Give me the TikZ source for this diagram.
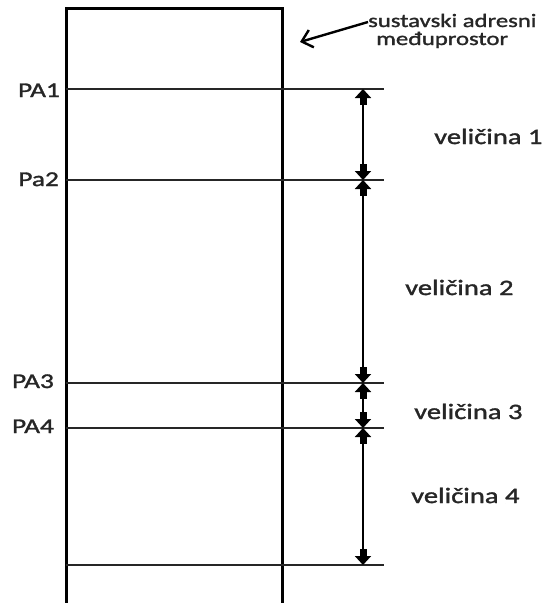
\documentclass[tikz,border=0pt]{standalone}
\usepackage{fontspec}
\setmainfont{Carlito}[FakeStretch=1.3,FakeBold=1.5]
\usetikzlibrary{arrows.meta}
\begin{document}
\begin{tikzpicture}[x=1pt,y=-1pt,
  box/.style={line width=3pt,line cap=butt},
  level/.style={line width=1.5pt,black!85},
  dim/.style={line width=2pt,
    {Triangle[width=16pt,length=9pt,sep=0pt]Rectangle[width=7pt,length=7pt,sep=0pt]}-{Rectangle[width=7pt,length=7pt,sep=0pt]Triangle[width=16pt,length=9pt,sep=0pt]}},
  lab/.style={inner sep=0pt,font=\fontsize{22}{24}\selectfont,text=black!85},
  pa/.style={inner sep=0pt,font=\fontsize{21}{24}\selectfont,text=black!85,anchor=base east},
  note/.style={inner sep=0pt,font=\fontsize{19}{18}\selectfont,text=black!85,anchor=base west},
  pointer/.style={line width=2.4pt,-{Straight Barb[length=10pt,width=18pt,line width=2.4pt]}}]
\useasboundingbox (0,0) rectangle (548,603);
% memory box (open at the bottom)
\draw[box] (66,603) -- (66,8) -- (282,8) -- (282,603);
% levels
\foreach \n/\y in {1/89,2/180,3/383,4/428,5/565}{
  \coordinate (L\n) at (66,\y);
  \coordinate (R\n) at (384,\y);
  \coordinate (A\n) at (363,\y);
  \draw[level] (L\n) -- (R\n);
}
% dimension arrows
\draw[dim] (A1) -- (A2);
\draw[dim] (A2) -- (A3);
\draw[dim] (A3) -- (A4);
\draw[dim] (A4) -- (A5);
% left labels
\node[pa] (pa1) at (60,97) {PA1};
\node[pa] (pa2) at (59,186) {Pa2};
\node[pa] (pa3) at (54,388) {PA3};
\node[pa] (pa4) at (54,433) {PA4};
% size labels
\node[lab,anchor=base west] (v1) at (434,144) {veličina 1};
\node[lab,anchor=base west] (v2) at (405,295) {veličina 2};
\node[lab,anchor=base west] (v3) at (414,419) {veličina 3};
\node[lab,anchor=base west] (v4) at (411,503) {veličina 4};
% annotation
\node[note] (n1) at (368,27) {sustavski adresni};
\node[note] (n2) at (376,45) {međuprostor};
\coordinate (tail) at (368,22);
\coordinate (tip) at (300,42);
\draw[pointer] (tail) -- (tip);
\end{tikzpicture}
\end{document}
